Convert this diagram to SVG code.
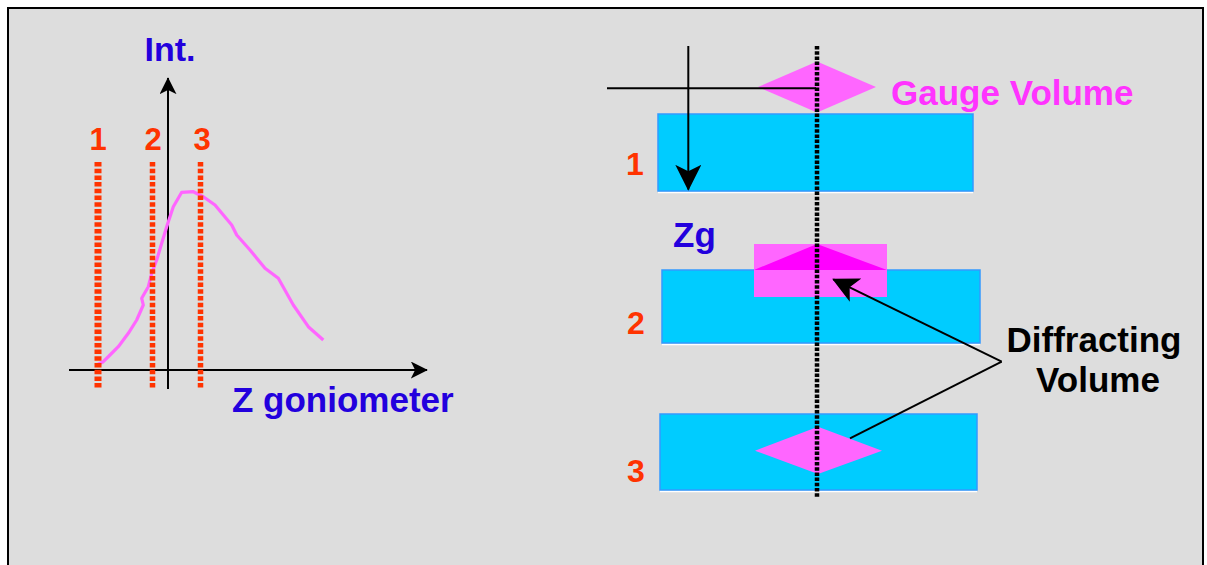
<svg xmlns="http://www.w3.org/2000/svg" width="1207" height="565" viewBox="0 0 1207 565">
<style>
.lbl{font-family:"Liberation Sans",Arial,sans-serif;font-weight:bold;font-size:35px}
.blue{fill:#2200DD}
.red{fill:#FF3300}
.mag{fill:#FF33FF}
.blk{fill:#000}
.bar{fill:#00CCFF;stroke:#3399FF;stroke-width:1.5}
.pink{fill:#FF66FF}
.rdash{stroke:#FF3300;stroke-width:5.5;stroke-dasharray:4.5 2.2;fill:none}
.ln{stroke:#000;stroke-width:2;fill:none}
</style>
<defs>
<marker id="ah" viewBox="0 0 20 20" refX="19" refY="10" markerWidth="17" markerHeight="17" markerUnits="userSpaceOnUse" orient="auto">
<path d="M0,0 L20,10 L0,20 L5,10 Z" fill="#000"/>
</marker>
<marker id="ah2" viewBox="0 0 20 20" refX="19" refY="10" markerWidth="26" markerHeight="26" markerUnits="userSpaceOnUse" orient="auto">
<path d="M0,0 L20,10 L0,20 L5,10 Z" fill="#000"/>
</marker>
</defs>
<rect x="0" y="0" width="1207" height="565" fill="#FFFFFF"/>
<rect x="8" y="8" width="1195" height="570" fill="#DDDDDD" stroke="#000" stroke-width="2"/>

<g id="chart">
<line class="ln" x1="168" y1="389" x2="168" y2="78" marker-end="url(#ah)"/>
<line class="ln" x1="69" y1="370" x2="427" y2="370" marker-end="url(#ah)"/>
<polyline fill="none" stroke="#FF66FF" stroke-width="3.2" stroke-linejoin="round" points="96.7,365 103.3,361.7 110,355 118.3,346.7 128.3,333.3 136.7,320 143.3,305 141.7,298.3 148.3,286.7 151.7,273.3 156.7,260 161.7,243.3 166.7,226.7 173.3,206.7 181.7,192.3 193.3,191.7 203.3,196.7 215,205 231.7,225 236.7,235 250,250 265,268.3 278.3,278.3 293.3,305 308.3,326.7 323.3,340"/>
<line class="rdash" x1="98" y1="162" x2="98" y2="389" style="stroke-width:7"/>
<line class="rdash" x1="152.5" y1="162" x2="152.5" y2="389"/>
<line class="rdash" x1="200.5" y1="162" x2="200.5" y2="389"/>
<text class="lbl blue" x="170" y="61" text-anchor="middle" style="font-size:34px">Int.</text>
<text class="lbl red" x="98" y="150" text-anchor="middle" style="font-size:31px">1</text>
<text class="lbl red" x="153" y="150" text-anchor="middle" style="font-size:31px">2</text>
<text class="lbl red" x="202" y="150" text-anchor="middle" style="font-size:31px">3</text>
<text class="lbl blue" x="232" y="412">Z goniometer</text>
</g>

<g id="sample1">
<line x1="658" y1="192.5" x2="973" y2="192.5" stroke="#FFFFFF" stroke-width="1.5"/>
<rect class="bar" x="658" y="114" width="315" height="77"/>
</g>
<g id="sample2">
<line x1="662" y1="344.5" x2="980" y2="344.5" stroke="#FFFFFF" stroke-width="1.5"/>
<rect class="bar" x="662" y="270" width="318" height="73"/>
<rect class="pink" x="754" y="244" width="133" height="53"/>
<polygon points="754,270 817,244 887,270" fill="#FF00FF"/>
</g>
<g id="sample3">
<line x1="660" y1="491.5" x2="977" y2="491.5" stroke="#FFFFFF" stroke-width="1.5"/>
<rect class="bar" x="660" y="414" width="317" height="76"/>
<polygon class="pink" points="755,450.7 818,426.7 882,450.7 818,474"/>
</g>
<g id="gauge">
<polygon class="pink" points="758,87 817,61.5 876,87 817,112.5"/>
<text class="lbl mag" x="891" y="105">Gauge Volume</text>
</g>
<g id="labels">
<text class="lbl red" x="635" y="175" text-anchor="middle" style="font-size:32px">1</text>
<text class="lbl red" x="636" y="334" text-anchor="middle" style="font-size:32px">2</text>
<text class="lbl red" x="636" y="482" text-anchor="middle" style="font-size:32px">3</text>
<text class="lbl blue" x="673" y="247">Zg</text>
<text class="lbl blk" x="1094" y="352" text-anchor="middle">Diffracting</text>
<text class="lbl blk" x="1098" y="392" text-anchor="middle">Volume</text>
</g>

<g id="connectors">
<line class="ln" x1="607" y1="88.3" x2="816" y2="88.3"/>
<line class="ln" x1="688.3" y1="46" x2="688.3" y2="189.5" marker-end="url(#ah2)"/>
<line x1="817" y1="46" x2="817" y2="498" stroke="#000" stroke-width="4.5" stroke-dasharray="3.5 1.7"/>
<line class="ln" x1="1001.7" y1="361.7" x2="833.3" y2="279.3" marker-end="url(#ah2)"/>
<line class="ln" x1="1001.7" y1="361.7" x2="850" y2="438.3"/>
</g>
</svg>
